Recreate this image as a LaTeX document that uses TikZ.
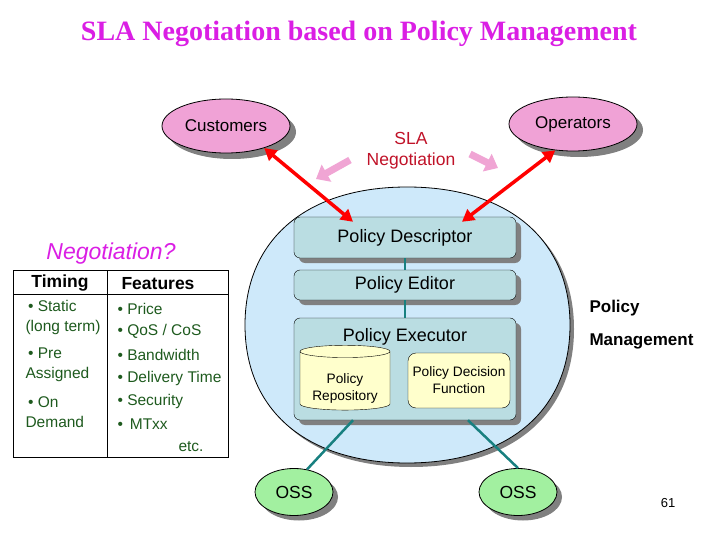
\documentclass[tikz,border=0pt]{standalone}
\usepackage{fontspec}
\setmainfont{Liberation Sans}
\newfontfamily\titlefont{Liberation Serif}
\usepackage{tikz}
\usetikzlibrary{arrows.meta, shapes.geometric, shadows}

\definecolor{titlemag}{RGB}{218,30,228}
\definecolor{ovalpink}{RGB}{240,162,214}
\definecolor{arrowpink}{RGB}{240,165,212}
\definecolor{slared}{RGB}{192,18,40}
\definecolor{mgmtblue}{RGB}{206,233,250}
\definecolor{boxteal}{RGB}{186,221,226}
\definecolor{repoyellow}{RGB}{255,255,204}
\definecolor{ossgreen}{RGB}{162,240,160}
\definecolor{linkteal}{RGB}{24,128,128}
\definecolor{shadowgray}{RGB}{128,128,128}
\definecolor{itemgreen}{RGB}{30,90,30}

\begin{document}
\begin{tikzpicture}[x=1pt, y=-1pt,
	pinkoval/.style={ellipse, draw, thick, fill=ovalpink, minimum width=128pt, minimum height=54pt,
		font=\fontsize{17}{19}\selectfont,
		drop shadow={shadow xshift=6pt, shadow yshift=-6pt, fill=shadowgray, opacity=1}},
	ossoval/.style={ellipse, draw, thick, fill=ossgreen, minimum width=78pt, minimum height=47pt,
		font=\fontsize{17.5}{19}\selectfont,
		drop shadow={shadow xshift=5pt, shadow yshift=-5pt, fill=shadowgray, opacity=1}},
	polbox/.style={rectangle, rounded corners=6pt, draw, fill=boxteal, minimum width=222pt,
		font=\fontsize{18}{20}\selectfont,
		drop shadow={shadow xshift=5pt, shadow yshift=-5pt, fill=shadowgray, opacity=1}},
	innerbox/.style={draw, fill=repoyellow, font=\fontsize{13.7}{17}\selectfont, align=center},
	redlink/.style={red, line width=3.5pt, {Triangle[length=12pt, width=13pt]}-{Triangle[length=12pt, width=13pt]}},
	pinkarrow/.style={arrowpink, line width=7pt, -{Triangle[length=12pt, width=19pt]}},
	tealink/.style={linkteal, line width=2.5pt},
	itemtext/.style={itemgreen, font=\fontsize{15.5}{20}\selectfont, align=left, anchor=west},
	]
	\useasboundingbox (0,0) rectangle (720,540);

	% Title
	\node[titlemag, font=\titlefont\bfseries\fontsize{28}{30}\selectfont] (title) at (359,34)
	{SLA Negotiation based on Policy Management};

	% Policy management domain
	\draw[thick, fill=mgmtblue, drop shadow={shadow xshift=4pt, shadow yshift=-4pt, fill=shadowgray, opacity=1}]
	(245,325) .. controls (245,239) and (307,187) .. (407,187)
	.. controls (508,187) and (570,239) .. (570,325)
	.. controls (570,411) and (508,463) .. (407,463)
	.. controls (307,463) and (245,411) .. (245,325) -- cycle;
	\node[font=\bfseries\fontsize{17}{33}\selectfont, align=left, anchor=west] (mgmt) at (586,325)
	{Policy\\Management};

	% Parties
	\node[pinkoval] (cust) at (226,126) {Customers};
	\node[pinkoval] (ops) at (573,124) {Operators};
	\node[slared, font=\fontsize{17.5}{21}\selectfont, align=center] (sla) at (411,151) {SLA\\Negotiation};

	% Policy blocks
	\node[polbox, minimum height=41pt] (desc) at (405,237.5) {Policy Descriptor};
	\node[polbox, minimum height=30pt] (editor) at (405,285) {Policy Editor};
	\node[polbox, minimum height=102pt] (exec) at (405,369) {};
	\node[font=\fontsize{18}{20}\selectfont] (exectitle) at (405,337) {Policy Executor};
	\node[innerbox, cylinder, shape border rotate=90, aspect=0.17, minimum width=90pt, minimum height=64pt,
	cylinder uses custom fill, cylinder body fill=repoyellow, cylinder end fill=repoyellow] (repo) at (345,382)
	{\rule{0pt}{22pt}Policy\\Repository};
	\node[innerbox, rounded corners=8pt, minimum width=102pt, minimum height=55pt] (pdf) at (459,380.5)
	{Policy Decision\\Function};

	% Operation support systems
	\node[ossoval] (ossl) at (294,492) {OSS};
	\node[ossoval] (ossr) at (518,492) {OSS};

	% Links
	\draw[tealink] (desc) -- (editor);
	\draw[tealink] (editor) -- (exec);
	\draw[tealink] ([xshift=-52pt]exec.south) -- (ossl.60);
	\draw[tealink] ([xshift=63pt]exec.south) -- (ossr.north);
	\draw[redlink] (cust.-30) -- ([xshift=-52pt, yshift=-5pt]desc.north);
	\draw[redlink] (ops.236) -- ([xshift=57pt, yshift=-5pt]desc.north);

	\coordinate (pl1) at (350,160);
	\coordinate (pl2) at (316,179);
	\coordinate (pr1) at (470,154);
	\coordinate (pr2) at (498,168);
	\draw[pinkarrow] (pl1) -- (pl2);
	\draw[pinkarrow] (pr1) -- (pr2);

	% Negotiation table
	\node[titlemag, font=\itshape\fontsize{23}{25}\selectfont] (neg) at (111,254) {Negotiation?};
	\draw[thick] (13,270) rectangle (228,457);
	\draw[thick] (13,294) -- (228,294);
	\draw[thick] (107,270) -- (107,457);
	\node[font=\bfseries\fontsize{17.5}{19}\selectfont] (timing) at (60,283) {Timing};
	\node[font=\bfseries\fontsize{17.5}{19}\selectfont] (features) at (158,284) {Features};

	\node[itemtext] (static) at (22,317) {\,• Static\\(long term)};
	\node[itemtext] (pre) at (22,365) {\,• Pre\\Assigned};
	\node[itemtext] (ondem) at (22,412.5) {\,• On\\Demand};

	\node[itemtext] (price) at (114,309) {• Price};
	\node[itemtext] (qos) at (114,331) {• QoS / CoS};
	\node[itemtext] (bw) at (114,355) {• Bandwidth};
	\node[itemtext] (deliv) at (114,378) {• Delivery Time};
	\node[itemtext] (secur) at (114,401) {• Security};
	\node[itemtext] (mtxx) at (114,424) {• \,MTxx};
	\node[itemtext] (etc) at (175,447) {etc.};

	% Page number
	\node[font=\fontsize{13}{15}\selectfont] (page) at (668,503) {61};
\end{tikzpicture}
\end{document}
